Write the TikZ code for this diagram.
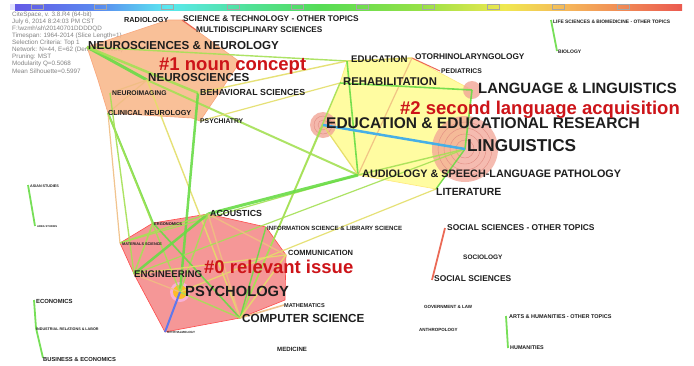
\documentclass[tikz,border=0pt]{standalone}
\usepackage{fontspec}
\setmainfont{Liberation Sans}
\newcommand{\fsz}[1]{\fontsize{#1}{#1}\selectfont}
\definecolor{labgray}{RGB}{30,30,30}
\definecolor{hdrgray}{RGB}{130,130,130}
\definecolor{clured}{RGB}{205,20,25}
\definecolor{cgreen}{RGB}{105,220,70}
\definecolor{cygreen}{RGB}{165,225,85}
\definecolor{cyel}{RGB}{228,222,105}
\definecolor{corange}{RGB}{240,190,130}
\definecolor{cred}{RGB}{235,105,85}
\definecolor{cblue}{RGB}{70,175,230}
\definecolor{cpurple}{RGB}{95,120,235}
\definecolor{hullA}{RGB}{248,182,135}
\definecolor{hullB}{RGB}{255,252,145}
\definecolor{hullC}{RGB}{245,140,140}
\definecolor{ringfill}{RGB}{242,165,150}
\definecolor{ringline}{RGB}{225,140,130}
\tikzset{
  lab/.style={anchor=west, inner sep=0pt, text=labgray, font=\bfseries\fsz{#1}},
  clu/.style={anchor=base west, inner sep=0pt, text=clured, font=\bfseries\fsz{18.5}},
  hdr/.style={anchor=west, inner sep=0pt, text=hdrgray, font=\fsz{6.3}},
  eg/.style={draw=cgreen, line width=#1, draw opacity=0.9},
  eyg/.style={draw=cygreen, line width=#1, draw opacity=0.9},
  ey/.style={draw=cyel, line width=#1, draw opacity=0.9},
  eo/.style={draw=corange, line width=#1, draw opacity=0.9},
  tick/.style={draw=black!35, line width=0.4pt},
}
\begin{document}
\begin{tikzpicture}[x=1pt,y=-1pt]
\useasboundingbox (0,0) rectangle (694,365);
\fill[white] (0,0) rectangle (694,365);

% time bar
\fill[blue!12] (10,4) rectangle (15,10);
\shade[left color={rgb,255:red,100;green,90;blue,230}, right color={rgb,255:red,90;green,140;blue,240}] (15,4) rectangle (100,10);
\shade[left color={rgb,255:red,90;green,140;blue,240}, right color={rgb,255:red,90;green,232;blue,240}] (100,4) rectangle (167,10);
\shade[left color={rgb,255:red,90;green,232;blue,240}, right color={rgb,255:red,80;green,225;blue,150}] (167,4) rectangle (250,10);
\shade[left color={rgb,255:red,80;green,225;blue,150}, right color={rgb,255:red,85;green,220;blue,85}] (250,4) rectangle (320,10);
\shade[left color={rgb,255:red,85;green,220;blue,85}, right color={rgb,255:red,150;green,225;blue,70}] (320,4) rectangle (420,10);
\shade[left color={rgb,255:red,150;green,225;blue,70}, right color={rgb,255:red,240;green,232;blue,80}] (420,4) rectangle (505,10);
\shade[left color={rgb,255:red,240;green,232;blue,80}, right color={rgb,255:red,245;green,180;blue,90}] (505,4) rectangle (570,10);
\shade[left color={rgb,255:red,245;green,180;blue,90}, right color={rgb,255:red,235;green,90;blue,80}] (570,4) rectangle (682,10);
\draw[tick] (31,4.5) rectangle (43,9.5);
\draw[tick] (94,4.5) rectangle (106,9.5);
\draw[tick] (161,4.5) rectangle (173,9.5);
\draw[tick] (227,4.5) rectangle (239,9.5);
\draw[tick] (291,4.5) rectangle (303,9.5);
\draw[tick] (356,4.5) rectangle (368,9.5);
\draw[tick] (422,4.5) rectangle (434,9.5);
\draw[tick] (487,4.5) rectangle (499,9.5);
\draw[tick] (552,4.5) rectangle (564,9.5);
\draw[tick] (617,4.5) rectangle (629,9.5);

% run info
\node[hdr] (h1) at (12,15) {CiteSpace, v. 3.8.R4 (64-bit)};
\node[hdr] (h2) at (12,22) {July 6, 2014 8:24:03 PM CST};
\node[hdr] (h3) at (12,29) {F:\textbackslash wzmh\textbackslash sh\textbackslash 20140701DDDDQD};
\node[hdr] (h4) at (12,36) {Timespan: 1964-2014 (Slice Length=1)};
\node[hdr] (h5) at (12,43) {Selection Criteria: Top 1};
\node[hdr] (h6) at (12,50) {Network: N=44, E=62 (Density=0.0656)};
\node[hdr] (h7) at (12,57) {Pruning: MST};
\node[hdr] (h8) at (12,64) {Modularity Q=0.5068};
\node[hdr] (h9) at (12,71) {Mean Silhouette=0.5997};

% nodes
\coordinate (neuro) at (87,47);
\coordinate (neurosci) at (147,80);
\coordinate (neuroimg) at (110,93);
\coordinate (behav) at (198,93);
\coordinate (clinneuro) at (108,113);
\coordinate (psychiatry) at (200,121);
\coordinate (scitech) at (182,20);
\coordinate (multi) at (196,30);
\coordinate (edu) at (347,61);
\coordinate (otor) at (412,58);
\coordinate (pedi) at (440,71);
\coordinate (rehab) at (340,83);
\coordinate (langl) at (472,90);
\coordinate (eer) at (323,125);
\coordinate (ling) at (465,149);
\coordinate (audio) at (358,175);
\coordinate (lit) at (436,189);
\coordinate (acou) at (208,214);
\coordinate (ergo) at (153,223);
\coordinate (info) at (266,227);
\coordinate (mater) at (120,243);
\coordinate (comm) at (286,255);
\coordinate (engin) at (134,274);
\coordinate (psy) at (180,292);
\coordinate (math) at (284,305);
\coordinate (comp) at (240,318);
\coordinate (ophth) at (165,332);
\coordinate (asian) at (28,185);
\coordinate (area) at (35,226);
\coordinate (econ) at (34,300);
\coordinate (indus) at (36,328);
\coordinate (busi) at (43,358);
\coordinate (socoth) at (445,228);
\coordinate (socsci) at (432,280);
\coordinate (arts) at (506,316);
\coordinate (human) at (508,348);
\coordinate (lifesci) at (551,20);
\coordinate (bio) at (557,51);

% cluster hulls
\filldraw[fill=hullA, fill opacity=0.85, draw=hullA!90!red, line width=0.6pt]
  (neuro) -- (168,20) -- (scitech) -- (240,62) -- (psychiatry) -- (192,118) -- (clinneuro) -- (98,80) -- cycle;
\filldraw[fill=hullB, fill opacity=0.85, draw=hullB!85!orange, line width=0.6pt]
  (edu) -- (otor) -- (langl) -- (ling) -- (lit) -- (audio) -- (eer) -- (rehab) -- cycle;
\filldraw[fill=hullC, fill opacity=0.9, draw=red!70, line width=0.6pt]
  (mater) -- (ergo) -- (acou) -- (info) -- (comm) -- (285,300) -- (comp) -- (ophth) -- (engin) -- cycle;

% citation rings
\fill[ringfill, opacity=0.75] (ling) circle[radius=33pt];
\draw[ringline, line width=0.4pt] (ling) circle[radius=27pt] (ling) circle[radius=21pt] (ling) circle[radius=15pt] (ling) circle[radius=9pt];
\fill[ringfill, opacity=0.8] (eer) circle[radius=13pt];
\draw[ringline, line width=0.4pt] (eer) circle[radius=9pt] (eer) circle[radius=5pt];
\fill[ringfill, opacity=0.8] (langl) circle[radius=9pt];
\fill[magenta!30, opacity=0.9] (psy) circle[radius=10pt];
\fill[orange!50!yellow, opacity=0.8] (psy) circle[radius=7pt];

% links
\draw[eg=3] (neuro) -- (neurosci);
\draw[eyg=2.5] (neuro) -- (behav);
\draw[eyg=1.4] (neuro) -- (edu);
\draw[eo=1.2] (neurosci) -- (neuroimg);
\draw[eo=1.2] (neurosci) -- (clinneuro);
\draw[eyg=2] (neurosci) -- (audio);
\draw[ey=1.4] (neurosci) -- (comp);
\draw[eg=2.5] (behav) -- (psy);
\draw[ey=1.4] (behav) -- (edu);
\draw[ey=1.2] (psychiatry) -- (rehab);
\draw[eg=2] (clinneuro) -- (ergo);
\draw[eo=1.2] (clinneuro) -- (mater);
\draw[eyg=1.4] (clinneuro) -- (psy);
\draw[eyg=1.4] (neuroimg) -- (engin);
\draw[cred, line width=1.2pt] (scitech) -- (multi);
\draw[ey=1.4] (edu) -- (otor);
\draw[cred, line width=1pt] (otor) -- (pedi);
\draw[eo=1.2] (otor) -- (audio);
\draw[eg=1.6] (edu) -- (audio);
\draw[eg=1.6] (rehab) -- (langl);
\draw[eyg=1.4] (rehab) -- (comp);
\draw[eg=1.6] (langl) -- (ling);
\draw[eg=1.4] (ling) -- (lit);
\draw[eyg=1.4] (ling) -- (audio);
\draw[ey=1.2] (eer) -- (audio);
\draw[eyg=1.4] (eer) -- (comp);
\draw[ey=1.2] (lit) -- (psy);
\draw[eyg=1.2] (audio) -- (mater);
\draw[eyg=1.2] (ling) -- (engin);
\draw[eg=3] (acou) -- (audio);
\draw[eg=2.5] (acou) -- (engin);
\draw[eo=1.4] (acou) -- (comp);
\draw[eo=1.4] (acou) -- (comm);
\draw[eyg=1.4] (acou) -- (psy);
\draw[eyg=1.6] (ergo) -- (engin);
\draw[eg=1.6] (ergo) -- (comp);
\draw[eyg=1.4] (mater) -- (acou);
\draw[eo=1.2] (engin) -- (psy);
\draw[ey=1.2] (engin) -- (comm);
\draw[eyg=1.4] (psy) -- (comp);
\draw[eo=1.6] (comp) -- (math);
\draw[eg=1.4] (comp) -- (info);
\draw[ey=1.4] (comp) -- (comm);
\draw[cblue, line width=2.5pt] (eer) -- (ling);
\draw[cpurple, line width=2pt] (psy) -- (ophth);
\draw[eg=1.8] (asian) -- (area);
\draw[eg=1.8] (econ) -- (indus) -- (busi);
\draw[cred, line width=1.8pt] (socoth) -- (socsci);
\draw[eg=1.8] (arts) -- (human);
\draw[eg=1.8] (lifesci) -- (bio);

% labels
\node[lab=7.3] (radiologyl) at (124,20) {RADIOLOGY};
\node[lab=8.3] (scitechl) at (183,19) {SCIENCE \& TECHNOLOGY - OTHER TOPICS};
\node[lab=8.2] (multil) at (196,30) {MULTIDISCIPLINARY SCIENCES};
\node[lab=11.6] (neurol) at (88,46) {NEUROSCIENCES \& NEUROLOGY};
\node[lab=11.6] (neuroscil) at (148,78) {NEUROSCIENCES};
\node[lab=6.8] (neuroimgl) at (112,93) {NEUROIMAGING};
\node[lab=8.8] (behavl) at (200,92) {BEHAVIORAL SCIENCES};
\node[lab=7.3] (clinneurol) at (108,113) {CLINICAL NEUROLOGY};
\node[lab=6.8] (psychiatryl) at (200,121) {PSYCHIATRY};
\node[lab=9.6] (edul) at (351,59) {EDUCATION};
\node[lab=8.3] (otorl) at (415,57) {OTORHINOLARYNGOLOGY};
\node[lab=6.8] (pedil) at (441,71) {PEDIATRICS};
\node[lab=11.3] (rehabl) at (343,82) {REHABILITATION};
\node[lab=14.9] (langll) at (478,88) {LANGUAGE \& LINGUISTICS};
\node[lab=15.5] (eerl) at (326,123) {EDUCATION \& EDUCATIONAL RESEARCH};
\node[lab=17.2] (lingl) at (467,146) {LINGUISTICS};
\node[lab=10.8] (audiol) at (362,174) {AUDIOLOGY \& SPEECH-LANGUAGE PATHOLOGY};
\node[lab=10.4] (litl) at (436,192) {LITERATURE};
\node[lab=4.9] (lifescil) at (553,22) {LIFE SCIENCES \& BIOMEDICINE - OTHER TOPICS};
\node[lab=5] (biol) at (558,52) {BIOLOGY};
\node[lab=3.7] (asianl) at (30,186) {ASIAN STUDIES};
\node[lab=2.7] (areal) at (37,227) {AREA STUDIES};
\node[lab=8.8] (acoul) at (210,213) {ACOUSTICS};
\node[lab=4] (ergol) at (154,224) {ERGONOMICS};
\node[lab=6.1] (infol) at (267,228) {INFORMATION SCIENCE \& LIBRARY SCIENCE};
\node[lab=3.8] (materl) at (122,244) {MATERIALS SCIENCE};
\node[lab=7.5] (comml) at (288,253) {COMMUNICATION};
\node[lab=9.7] (enginl) at (134,274) {ENGINEERING};
\node[lab=14.7] (psyl) at (185,291) {PSYCHOLOGY};
\node[lab=5.6] (mathl) at (284,306) {MATHEMATICS};
\node[lab=11.7] (compl) at (242,318) {COMPUTER SCIENCE};
\node[lab=3] (ophthl) at (167,332) {OPHTHALMOLOGY};
\node[lab=5.9] (econl) at (36,301) {ECONOMICS};
\node[lab=3.7] (indusl) at (36,329) {INDUSTRIAL RELATIONS \& LABOR};
\node[lab=5.8] (busil) at (43,359) {BUSINESS \& ECONOMICS};
\node[lab=6.1] (medl) at (277,349) {MEDICINE};
\node[lab=8.4] (socothl) at (447,228) {SOCIAL SCIENCES - OTHER TOPICS};
\node[lab=6.5] (sociol) at (463,257) {SOCIOLOGY};
\node[lab=8.4] (socscil) at (434,279) {SOCIAL SCIENCES};
\node[lab=4.5] (govl) at (424,307) {GOVERNMENT \& LAW};
\node[lab=4.5] (anthl) at (419,330) {ANTHROPOLOGY};
\node[lab=5.5] (artsl) at (509,317) {ARTS \& HUMANITIES - OTHER TOPICS};
\node[lab=5.4] (humanl) at (510,348) {HUMANITIES};

% cluster names
\node[clu] (clu1) at (159,70) {\#1 noun concept};
\node[clu] (clu2) at (400,114) {\#2 second language acquisition};
\node[clu] (clu0) at (204,273) {\#0 relevant issue};
\end{tikzpicture}
\end{document}
